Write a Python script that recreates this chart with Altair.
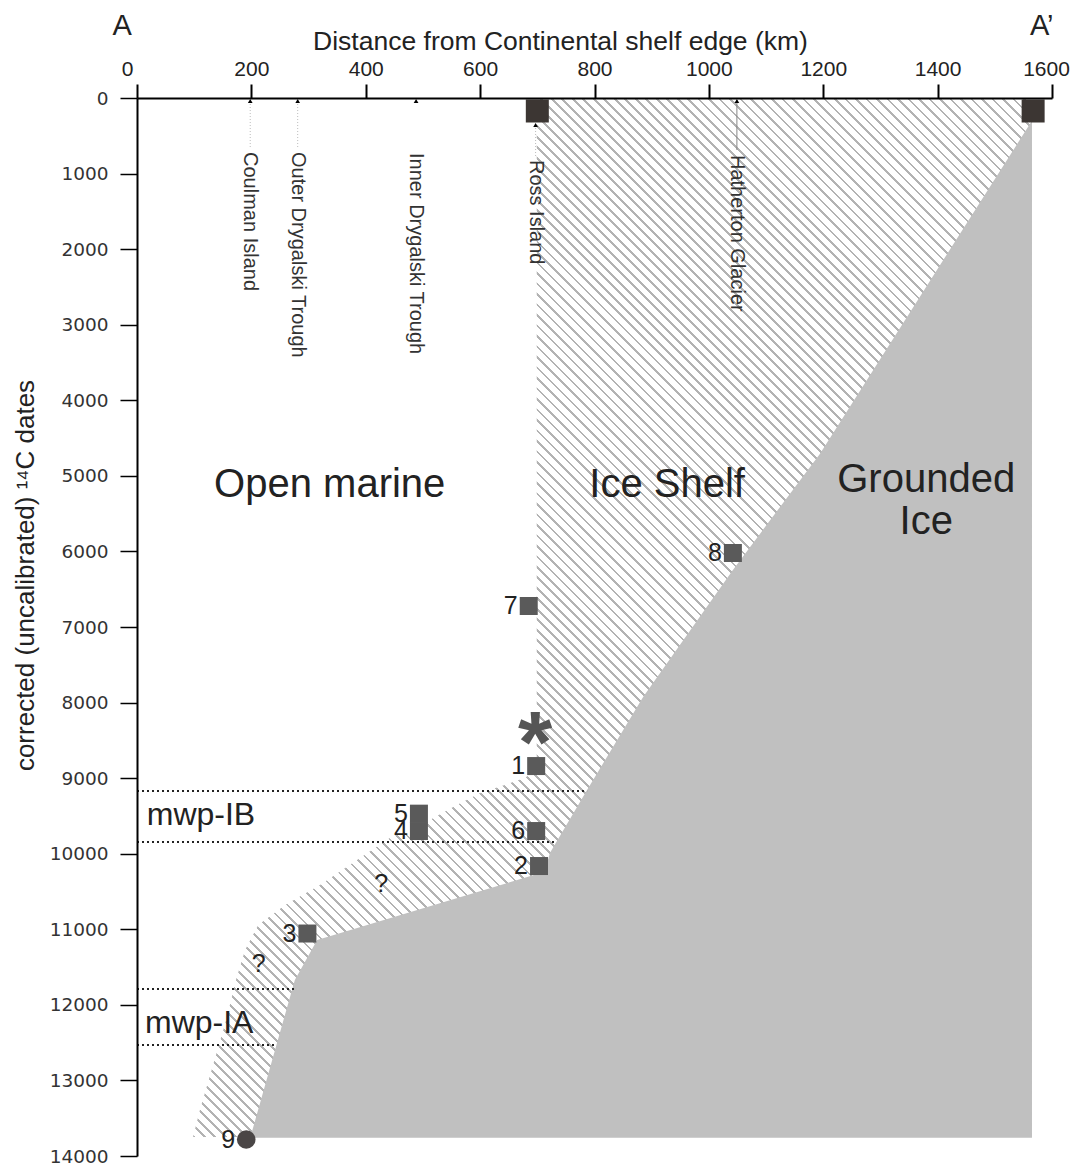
import altair as alt
import pandas as pd

# ---------------- data ----------------
x_ticks = [0, 200, 400, 600, 800, 1000, 1200, 1400, 1600]
y_ticks = [0, 1000, 2000, 3000, 4000, 5000, 6000, 7000, 8000, 9000,
           10000, 11000, 12000, 13000, 14000]

# Grounded ice: left boundary (km) vs corrected 14C age
gray_age = [300, 4710, 6245, 7925, 9157, 9990, 10240, 11142, 11670, 13760]
gray_left = [1565, 1194, 1042, 885, 787, 722, 713, 315, 276, 198]
gray_right = 1565

# Ice shelf (hatched) region: left boundary
hatch_age = [0, 8892, 8998, 9091, 9197, 9369, 9554, 9792, 10057, 10414,
             10679, 10944, 11274, 11671, 12200, 12796, 13392, 13749]
hatch_left = [699, 699, 678, 643, 600, 556, 512, 442, 390, 320,
              259, 212, 189, 173, 156, 133, 110, 98]
hatch_right = 1565

# dated samples
pt_label = ["1", "2", "3", "4", "5", "6", "7", "8"]
pt_km = [698, 703, 298, 493, 493, 698, 685, 1042]
pt_age = [8840, 10163, 11056, 9700, 9470, 9700, 6722, 6021]
circle_label = ["9"]
circle_km = [191]
circle_age = [13782]

# section end markers (A, A')
end_km = [700, 1567]
end_age = [172, 172]

# site locations on the profile
site_name = ["Coulman Island", "Outer Drygalski Trough", "Inner Drygalski Trough",
             "Ross Island", "Hatherton Glacier"]
site_km = [198, 281, 488, 697, 1049]
site_tri_age = [40, 40, 40, 357, 40]
site_label_age = [715, 715, 728, 820, 754]

leader_km = [198, 281, 697, 1049]
leader_age = [80, 80, 397, 53]
leader_age2 = [650, 650, 767, 688]
leader_kind = ["dot", "dot", "dot", "solid"]

# meltwater pulse limits
mwp_age = [9170, 9845, 11790, 12531]
mwp_km2 = [787, 731, 276, 241]
mwp_text = ["mwp-IB", "mwp-IA"]
mwp_text_km = [17, 14]
mwp_text_age = [9488, 12240]

q_km = [427, 213]
q_age = [10400, 11460]

star_km = [696]
star_age = [8380]

region_text = ["Open marine", "Ice Shelf", "Grounded\nIce"]
region_km = [337, 927, 1380]
region_age = [5121, 5121, 5055]

end_text = ["A", "A\u2019"]
end_text_km = [-26, 1582]
end_text_age = [-953, -953]

# ---------------- layout ----------------
W, H = 915, 1058
FONT = "Liberation Sans"
HATCH = "#b3b3b3"

xscale = alt.Scale(domain=[0, 1600], nice=False, zero=False)
yscale = alt.Scale(domain=[0, 14000], reverse=True, nice=False, zero=False)

x_label_offset = {"condition": [{"test": "datum.value == 0", "value": -10},
                                {"test": "datum.value == 1600", "value": -6}],
                  "value": 0}

xaxis = alt.Axis(orient="top", values=x_ticks, format="d",
                 title="Distance from Continental shelf edge (km)",
                 labelFont=FONT, labelFontSize=21, labelColor="#222", labelPadding=5,
                 labelFlush=False, labelOffset=x_label_offset,
                 tickSize=14, tickWidth=2, tickColor="black",
                 domainColor="black", domainWidth=2, grid=False,
                 titleFont=FONT, titleFontSize=26.5, titleFontWeight="normal", titleColor="#222",
                 titleX=423, titleY=-57, titleBaseline="middle", titleAlign="center",
                 zindex=1)
yaxis = alt.Axis(orient="left", values=y_ticks, format="d",
                 title="corrected (uncalibrated) \u00b9\u2074C dates",
                 labelFont="DejaVu Sans", labelFontSize=18.5, labelColor="#333", labelPadding=12,
                 tickSize=17, tickWidth=1.5, tickColor="black",
                 domainColor="black", domainWidth=2, grid=False, labelOverlap=False,
                 titleFont=FONT, titleFontSize=26, titleFontWeight="normal", titleColor="#222",
                 titleX=-112, titleY=477, titleBaseline="middle", titleAlign="center",
                 titleAngle=270, zindex=1)

X = alt.X("km:Q", scale=xscale, axis=xaxis)
Y = alt.Y("age:Q", scale=yscale, axis=yaxis)

# hatch pattern as a striped linear gradient (stripes at 45 degrees)
sx, sy = W / 1600.0, H / 14000.0
bw = (hatch_right - min(hatch_left)) * sx
bh = (max(hatch_age) - min(hatch_age)) * sy
r = bh / bw
s = (1 + r) / (1 + r * r)
n = int(round((bw + bh) / 10.5))
stops = []
for i in range(n):
    a, b, c = i / n, (i + 0.26) / n, (i + 1) / n
    stops += [{"offset": a, "color": HATCH}, {"offset": b, "color": HATCH},
              {"offset": b, "color": "white"}, {"offset": c, "color": "white"}]
hatch_fill = {"gradient": "linear", "x1": 0, "y1": 1, "x2": s, "y2": 1 - r * s, "stops": stops}

hatch_df = pd.DataFrame({"age": hatch_age, "km": hatch_left, "km2": [hatch_right] * len(hatch_age)})
gray_df = pd.DataFrame({"age": gray_age, "km": gray_left, "km2": [gray_right] * len(gray_age)})

hatch = alt.Chart(hatch_df).mark_area(orient="horizontal", fill=hatch_fill).encode(
    y=Y, x=X, x2="km2:Q")
gray = alt.Chart(gray_df).mark_area(orient="horizontal", color="#c0c0c0").encode(
    y=Y, x=X, x2="km2:Q")

mwp_df = pd.DataFrame({"age": mwp_age, "km": [0] * 4, "km2": mwp_km2})
mwp_lines = alt.Chart(mwp_df).mark_rule(color="#222", strokeWidth=2, strokeDash=[2, 3]).encode(
    y=Y, x=X, x2="km2:Q")

lead_df = pd.DataFrame({"km": leader_km, "age": leader_age, "age2": leader_age2, "kind": leader_kind})
leaders_dot = alt.Chart(lead_df[lead_df.kind == "dot"]).mark_rule(
    color="#bbb", strokeWidth=1, strokeDash=[1, 2]).encode(x=X, y=Y, y2="age2:Q")
leaders_solid = alt.Chart(lead_df[lead_df.kind == "solid"]).mark_rule(
    color="#888", strokeWidth=1).encode(x=X, y=Y, y2="age2:Q")

site_df = pd.DataFrame({"km": site_km, "age": site_tri_age, "lab_age": site_label_age, "name": site_name})
tris = alt.Chart(site_df).mark_point(shape="triangle-up", filled=True, color="black",
                                     size=22, opacity=1).encode(x=X, y=Y)
site_lab = alt.Chart(site_df).mark_text(angle=90, align="left", baseline="middle",
                                        font=FONT, fontSize=20, color="#333").encode(
    x=X, y=alt.Y("lab_age:Q", scale=yscale, axis=yaxis), text="name:N")

pt_df = pd.DataFrame({"km": pt_km, "age": pt_age, "lab": pt_label})
squares = alt.Chart(pt_df).mark_square(size=324, color="#5a5a5a", opacity=1).encode(x=X, y=Y)
pt_text = alt.Chart(pt_df).mark_text(align="right", baseline="middle", dx=-11,
                                     font=FONT, fontSize=25, color="#222").encode(
    x=X, y=Y, text="lab:N")

circ_df = pd.DataFrame({"km": circle_km, "age": circle_age, "lab": circle_label})
circ = alt.Chart(circ_df).mark_circle(size=346, color="#4a4646", opacity=1).encode(x=X, y=Y)
circ_text = alt.Chart(circ_df).mark_text(align="right", baseline="middle", dx=-11,
                                         font=FONT, fontSize=25, color="#222").encode(
    x=X, y=Y, text="lab:N")

end_df = pd.DataFrame({"km": end_km, "age": end_age})
ends = alt.Chart(end_df).mark_square(size=529, color="#3c3633", opacity=1).encode(x=X, y=Y)

mwp_t_df = pd.DataFrame({"km": mwp_text_km, "age": mwp_text_age, "t": mwp_text})
mwp_t = alt.Chart(mwp_t_df).mark_text(align="left", baseline="middle", font=FONT,
                                      fontSize=32, color="#222").encode(x=X, y=Y, text="t:N")

q_df = pd.DataFrame({"km": q_km, "age": q_age, "t": ["?", "?"]})
q_t = alt.Chart(q_df).mark_text(align="center", baseline="middle", font=FONT,
                                fontSize=25, color="#222").encode(x=X, y=Y, text="t:N")

star_df = pd.DataFrame({"km": star_km, "age": star_age, "t": ["*"]})
star = alt.Chart(star_df).mark_text(align="center", baseline="middle", font=FONT, fontSize=88,
                                    fontWeight="bold", color="#555", dy=15).encode(
    x=X, y=Y, text="t:N")

reg_df = pd.DataFrame({"km": region_km, "age": region_age, "t": region_text})
reg_t = alt.Chart(reg_df).mark_text(align="center", baseline="middle", font=FONT, fontSize=40,
                                    color="#222", lineBreak="\n", lineHeight=42).encode(
    x=X, y=Y, text="t:N")

endt_df = pd.DataFrame({"km": end_text_km, "age": end_text_age, "t": end_text})
end_t = alt.Chart(endt_df).mark_text(align="center", baseline="middle", font=FONT, fontSize=29,
                                     color="#222").encode(x=X, y=Y, text="t:N")

chart = alt.layer(
    hatch, gray, mwp_lines, leaders_dot, leaders_solid, tris, site_lab,
    squares, pt_text, circ, circ_text, ends, mwp_t, q_t, star, reg_t, end_t
).properties(
    width=W, height=H,
    background="white",
    autosize=alt.AutoSizeParams(type="none"),
    padding={"left": 129, "top": 90, "right": 18, "bottom": 7},
).configure_view(stroke="transparent", strokeWidth=0)

chart.save("out.html", embed_options={"renderer": "svg", "actions": False})
